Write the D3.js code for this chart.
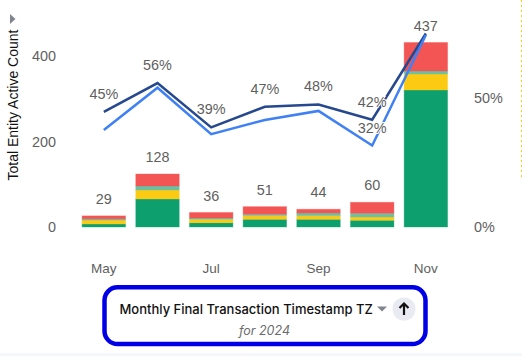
<!DOCTYPE html>
<html>
<head>
<meta charset="utf-8">
<script src="https://cdn.jsdelivr.net/npm/d3@7"></script>
<style>
  html, body { margin: 0; padding: 0; background: #fff; overflow: hidden; }
  svg { display: block; }
  text { font-family: "Liberation Sans", Arial, sans-serif; }
  .tick text { fill: #5f5f5f; font-size: 14.4px; }
</style>
</head>
<body>
<div id="chart"></div>
<script>
const months = ['May', 'Jun', 'Jul', 'Aug', 'Sep', 'Oct', 'Nov'];
const monthTicks = ['May', 'Jul', 'Sep', 'Nov'];

// stacked segments
const greenValues = [7, 65.5, 10, 18, 18, 15.7, 320.5];
const yellowValues = [9, 21, 8, 8.5, 8.5, 7.7, 37.4];
const tealValues = [3, 9.4, 3, 3.3, 6.3, 8.7, 7];
const redValues = [7, 28, 13, 17.8, 8.7, 25.7, 66.7];
const totalLabels = [29, 128, 36, 51, 44, 60, 437];

// percent lines, right axis
const darkLine = [44.6, 55.8, 38.6, 46.6, 47.5, 41.6, 75];
const blueLine = [37.6, 54, 36, 41.5, 45, 31.6, 74.4];
const darkLabelled = [true, true, true, true, true, true, false];
const blueLabelled = [false, false, false, false, false, true, false];

const countTicks = [0, 200, 400];
const pctTicks = [0, 50];

const width = 522;
const height = 356;

const svg = d3.select('#chart')
  .append('svg')
  .attr('width', width)
  .attr('height', height);

// Scales
const x = d3.scaleBand()
  .domain(months)
  .range([77, 452.7])
  .paddingInner(0.19)
  .paddingOuter(0.095);

const y = d3.scaleLinear()
  .domain([0, 400])
  .range([227, 56]);

const yPct = d3.scaleLinear()
  .domain([0, 50])
  .range([227, 98]);

// Axes
const leftAxis = svg.append('g')
  .attr('transform', 'translate(56,0)')
  .call(d3.axisLeft(y).tickValues(countTicks).tickSize(0).tickPadding(0));
leftAxis.select('.domain').remove();

const rightAxis = svg.append('g')
  .attr('transform', 'translate(474,0)')
  .call(d3.axisRight(yPct).tickValues(pctTicks).tickFormat(d => d + '%').tickSize(0).tickPadding(0));
rightAxis.select('.domain').remove();

const bottomAxis = svg.append('g')
  .attr('transform', 'translate(0,263)')
  .call(d3.axisBottom(x).tickValues(monthTicks).tickSize(0).tickPadding(0));
bottomAxis.select('.domain').remove();
bottomAxis.selectAll('text').style('font-size', '13.5px').attr('dy', '0.71em');

// Y axis label
svg.append('text')
  .attr('transform', 'translate(18,105) rotate(-90)')
  .attr('text-anchor', 'middle')
  .style('font-size', '14px')
  .style('fill', '#111')
  .text('Total Entity Active Count');

// Legend arrow above the y label
svg.append('path')
  .attr('d', d3.line()([[10, 14], [15.5, 19], [10, 24]]))
  .attr('fill', '#80868f');

// Stacked bars
const seriesKeys = ['green', 'yellow', 'teal', 'red'];
const seriesColors = { green: '#0da06e', yellow: '#fdca13', teal: '#6cbfa3', red: '#f35454' };
const rows = months.map((m, i) => ({
  month: m,
  green: greenValues[i],
  yellow: yellowValues[i],
  teal: tealValues[i],
  red: redValues[i]
}));
const stacked = d3.stack().keys(seriesKeys)(rows);

svg.selectAll('.layer')
  .data(stacked)
  .join('g')
  .attr('class', 'layer')
  .attr('fill', d => seriesColors[d.key])
  .attr('stroke', d => seriesColors[d.key])
  .attr('stroke-opacity', 0.35)
  .selectAll('rect')
  .data(d => d)
  .join('rect')
  .attr('x', d => x(d.data.month))
  .attr('y', d => y(d[1]))
  .attr('width', x.bandwidth())
  .attr('height', d => y(d[0]) - y(d[1]));

// Total labels
svg.selectAll('.total')
  .data(rows)
  .join('text')
  .attr('class', 'total')
  .attr('x', d => x(d.month) + x.bandwidth() / 2)
  .attr('y', d => y(d.green + d.yellow + d.teal + d.red) - 17)
  .attr('dy', '0.35em')
  .attr('text-anchor', 'middle')
  .style('font-size', '14.4px')
  .style('fill', '#5f5f5f')
  .text((d, i) => totalLabels[i]);

// Percent lines
const line = d3.line()
  .x((d, i) => x(months[i]) + x.bandwidth() / 2)
  .y(d => yPct(d));

svg.append('path')
  .datum(darkLine)
  .attr('fill', 'none')
  .attr('stroke', '#25488f')
  .attr('stroke-width', 2.5)
  .attr('d', line);

svg.append('path')
  .datum(blueLine)
  .attr('fill', 'none')
  .attr('stroke', '#3f81f4')
  .attr('stroke-width', 2.5)
  .attr('d', line);

// Percent labels, with a white halo that cuts the lines
function pctLabels(values, labelled) {
  svg.selectAll(null)
    .data(values.map((v, i) => ({ v, month: months[i], show: labelled[i] })).filter(d => d.show))
    .join('text')
    .attr('x', d => x(d.month) + x.bandwidth() / 2)
    .attr('y', d => yPct(d.v) - 18)
    .attr('dy', '0.35em')
    .attr('text-anchor', 'middle')
    .attr('paint-order', 'stroke')
    .attr('stroke', '#fff')
    .attr('stroke-width', 2)
    .style('font-size', '14.4px')
    .style('fill', '#5f5f5f')
    .text(d => d3.format('.0f')(d.v) + '%');
}
pctLabels(darkLine, darkLabelled);
pctLabels(blueLine, blueLabelled);

// Dotted edge on the right
svg.append('line')
  .attr('x1', 521.5)
  .attr('x2', 521.5)
  .attr('y1', 0)
  .attr('y2', 178)
  .attr('stroke', '#fdca13')
  .attr('stroke-width', 1)
  .attr('stroke-dasharray', '2,3');

// Footer strip
svg.append('rect')
  .attr('x', 0)
  .attr('y', 353)
  .attr('width', width)
  .attr('height', 3)
  .attr('fill', '#f5f7fb');

// Highlighted x axis title box
svg.append('rect')
  .attr('x', 104.5)
  .attr('y', 287.25)
  .attr('width', 321)
  .attr('height', 56.8)
  .attr('rx', 13)
  .attr('fill', '#fff')
  .attr('stroke', '#0000e6')
  .attr('stroke-width', 4.5);

svg.append('text')
  .attr('x', 119.5)
  .attr('y', 314)
  .style('font-family', 'Inter, sans-serif')
  .style('font-size', '13px')
  .style('font-weight', 500)
  .style('fill', '#111')
  .text('Monthly Final Transaction Timestamp TZ');

svg.append('text')
  .attr('x', 264.5)
  .attr('y', 335)
  .attr('text-anchor', 'middle')
  .style('font-family', 'Inter, sans-serif')
  .style('font-size', '12.5px')
  .style('font-style', 'italic')
  .style('fill', '#6b6b6b')
  .text('for 2024');

// Caret and sort button
svg.append('path')
  .attr('d', d3.line()([[377, 306.5], [387, 306.5], [382, 311.5]]))
  .attr('fill', '#80868f');

svg.append('circle')
  .attr('cx', 404)
  .attr('cy', 309)
  .attr('r', 11.5)
  .attr('fill', '#e9ebf3');

svg.append('path')
  .attr('d', 'M404 315V303.5M399.5 308L404 303.5L408.5 308')
  .attr('fill', 'none')
  .attr('stroke', '#111')
  .attr('stroke-width', 2.2);
</script>
</body>
</html>
